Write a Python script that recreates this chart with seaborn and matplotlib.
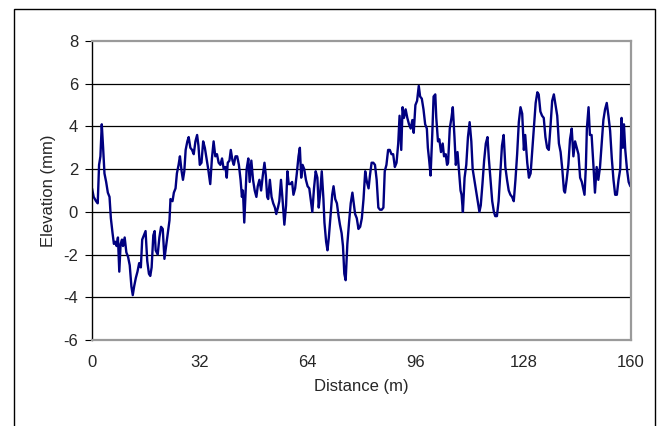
import matplotlib
matplotlib.use("Agg")
import matplotlib.pyplot as plt
import seaborn as sns
import pandas as pd
from matplotlib.patches import Rectangle

# profile: distance (m) and elevation (mm)
distance = [
    0.0, 0.5, 1.2, 1.7, 2.1, 2.5, 2.9, 3.3, 3.7, 4.2, 4.7, 5.2, 5.6, 6.1, 6.5,
    6.9, 7.3, 7.7, 8.1, 8.5, 8.9, 9.2, 9.7, 10.2, 10.7, 11.2, 11.7, 12.1, 12.5,
    13.0, 13.5, 14.0, 14.5, 14.9, 15.4, 15.9, 16.4, 16.9, 17.3, 17.7, 18.2,
    18.6, 18.9, 19.5, 20.0, 20.5, 21.0, 21.5, 22.0, 22.5, 23.0, 23.3, 23.9,
    24.3, 24.8, 25.2, 25.7, 26.1, 26.6, 27.0, 27.4, 27.8, 28.3, 28.7, 29.2,
    29.7, 30.2, 30.7, 31.2, 31.6, 32.0, 32.5, 33.0, 33.5, 34.0, 34.5, 35.1,
    35.6, 36.1, 36.6, 37.1, 37.6, 38.1, 38.6, 39.1, 39.6, 40.0, 40.3, 40.8,
    41.2, 41.7, 42.1, 42.6, 43.1, 43.6, 44.1, 44.5, 44.8, 45.2, 45.6, 45.9,
    46.4, 46.8, 47.3, 47.8, 48.3, 48.8, 49.2, 49.7, 50.2, 50.7, 51.2, 51.6,
    52.0, 52.3, 52.8, 53.3, 53.8, 54.3, 54.7, 55.2, 55.6, 56.1, 56.6, 57.1,
    57.6, 58.0, 58.4, 58.9, 59.4, 59.8, 60.3, 60.8, 61.3, 61.7, 62.1, 62.5,
    63.0, 63.5, 64.0, 64.5, 65.0, 65.4, 65.9, 66.4, 66.9, 67.3, 67.7, 68.2,
    68.7, 69.0, 69.5, 69.9, 70.3, 70.8, 71.3, 71.7, 72.2, 72.7, 73.2, 73.6,
    74.1, 74.5, 74.9, 75.3, 75.8, 76.3, 76.8, 77.3, 77.7, 78.1, 78.6, 79.1,
    79.6, 80.1, 80.6, 81.1, 81.6, 82.1, 82.5, 83.0, 83.5, 84.0, 84.5, 85.0,
    85.5, 86.0, 86.5, 86.9, 87.4, 87.9, 88.4, 88.9, 89.4, 89.9, 90.4, 90.9,
    91.3, 91.8, 92.2, 92.6, 93.1, 93.6, 94.1, 94.6, 95.1, 95.5, 96.0, 96.5,
    97.0, 97.4, 97.9, 98.4, 98.9, 99.4, 99.7, 100.1, 100.5, 101.0, 101.4,
    101.9, 102.2, 102.7, 103.1, 103.6, 104.1, 104.5, 105.0, 105.4, 105.7,
    106.2, 106.7, 107.1, 107.6, 108.0, 108.5, 108.9, 109.4, 109.7, 110.1,
    110.6, 111.1, 111.6, 112.1, 112.6, 113.0, 113.5, 114.0, 114.5, 115.0,
    115.4, 115.9, 116.4, 116.9, 117.4, 117.8, 118.3, 118.8, 119.3, 119.7,
    120.2, 120.7, 121.2, 121.7, 122.2, 122.7, 123.2, 123.7, 124.2, 124.7,
    125.2, 125.7, 126.2, 126.7, 127.2, 127.7, 128.2, 128.6, 129.2, 129.7,
    130.2, 130.7, 131.2, 131.7, 132.2, 132.6, 133.1, 133.6, 134.1, 134.6,
    135.1, 135.6, 136.1, 136.6, 137.1, 137.6, 138.1, 138.6, 139.1, 139.6,
    140.1, 140.4, 140.9, 141.4, 141.9, 142.4, 142.9, 143.4, 143.9, 144.4,
    144.9, 145.4, 145.8, 146.2, 146.6, 146.9, 147.4, 147.8, 148.3, 148.8,
    149.3, 149.8, 150.3, 150.8, 151.3, 151.8, 152.3, 152.8, 153.3, 153.8,
    154.3, 154.8, 155.3, 155.8, 156.3, 156.8, 157.2, 157.6, 157.9, 158.3,
    158.8, 159.3, 159.8, 160.0,
]
elevation = [
    1.1, 0.7, 0.5, 0.4, 2.2, 2.6, 4.1, 3.0, 1.8, 1.4, 0.9, 0.7, -0.3, -1.0, -1.5,
    -1.4, -1.6, -1.2, -2.8, -1.5, -1.3, -1.6, -1.2, -1.9, -2.1, -2.5, -3.5, -3.9,
    -3.5, -3.1, -2.8, -2.4, -2.6, -1.3, -1.1, -0.9, -2.3, -2.9, -3.0, -2.6,
    -1.1, -0.9, -1.8, -2.0, -1.2, -0.7, -0.8, -2.2, -1.6, -1.0, -0.4, 0.6, 0.5,
    0.9, 1.1, 1.8, 2.2, 2.6, 1.9, 1.5, 1.9, 2.9, 3.3, 3.5, 3.0, 2.9, 2.7,
    3.3, 3.6, 3.1, 2.2, 2.3, 3.3, 3.0, 2.5, 2.0, 1.3, 2.5, 3.3, 2.6, 2.7,
    2.3, 2.2, 2.5, 2.0, 2.1, 1.6, 2.3, 2.4, 2.9, 2.4, 2.2, 2.6, 2.6, 2.2,
    1.5, 0.7, 1.0, -0.5, 0.9, 2.0, 2.5, 1.4, 2.4, 1.5, 1.0, 0.7, 1.2, 1.5,
    1.0, 1.7, 2.3, 1.7, 0.7, 0.6, 1.5, 0.7, 0.4, 0.2, -0.1, 0.2, 0.5, 1.5,
    0.5, -0.6, 0.3, 1.9, 1.3, 1.3, 1.4, 0.8, 1.1, 1.8, 2.6, 3.0, 1.6, 2.2,
    2.0, 1.5, 1.2, 1.1, 0.5, 0.0, 1.1, 1.9, 1.6, 0.2, 0.8, 1.9, 0.6, -0.5,
    -1.4, -1.8, -1.2, -0.2, 0.8, 1.2, 0.6, 0.4, -0.2, -0.6, -1.0, -1.6, -2.9,
    -3.2, -1.5, -0.5, 0.4, 0.9, 0.4, -0.1, -0.3, -0.8, -0.7, -0.3, 0.6, 1.9,
    1.4, 1.1, 1.7, 2.3, 2.3, 2.2, 1.5, 0.2, 0.1, 0.1, 0.2, 1.9, 2.2, 2.9,
    2.9, 2.7, 2.7, 2.1, 2.3, 3.2, 4.5, 2.9, 4.9, 4.4, 4.8, 4.4, 4.1, 3.9,
    4.3, 3.7, 5.0, 5.2, 5.9, 5.4, 5.3, 4.8, 4.1, 3.9, 3.0, 2.4, 1.7, 3.6,
    5.4, 5.5, 4.4, 3.3, 3.4, 2.8, 3.2, 2.6, 2.7, 2.2, 2.3, 3.9, 4.4, 4.9,
    3.5, 2.2, 2.8, 2.0, 1.0, 0.8, 0.0, 1.6, 2.2, 3.5, 4.2, 3.3, 2.0, 1.5,
    1.0, 0.5, 0.0, 0.3, 1.3, 2.4, 3.2, 3.5, 2.5, 1.5, 0.5, 0.0, -0.2, -0.2,
    0.5, 1.8, 3.1, 3.6, 2.1, 1.5, 1.0, 0.8, 0.7, 0.5, 1.5, 2.7, 4.2, 4.9,
    4.6, 2.9, 3.6, 2.3, 1.6, 1.8, 2.9, 4.0, 5.1, 5.6, 5.5, 4.7, 4.5, 4.4,
    3.5, 3.0, 2.9, 4.0, 5.2, 5.5, 5.0, 4.5, 3.2, 2.8, 2.0, 1.0, 0.9, 1.5,
    2.2, 3.4, 3.9, 2.6, 3.3, 3.0, 2.7, 1.6, 1.4, 1.1, 0.8, 2.1, 3.9, 4.9,
    3.6, 3.6, 2.3, 0.9, 2.1, 1.5, 2.1, 3.2, 4.3, 4.8, 5.1, 4.5, 3.8, 2.5,
    1.5, 0.8, 0.8, 1.5, 2.0, 4.4, 3.0, 4.1, 2.9, 2.0, 1.4, 1.2, 1.2,
]
x_ticks = [0, 32, 64, 96, 128, 160]
y_ticks = [-6, -4, -2, 0, 2, 4, 6, 8]

df = pd.DataFrame({"Distance": distance, "Elevation": elevation})

sns.set_style("white")
plt.rcParams["font.family"] = ["Liberation Sans", "DejaVu Sans"]
plt.rcParams["axes.unicode_minus"] = False

fig = plt.figure(figsize=(6.59, 4.26), dpi=100)
ax = fig.add_axes([92 / 659, 1 - 340 / 426, 539 / 659, 299 / 426])

sns.lineplot(data=df, x="Distance", y="Elevation", color="#000080",
             linewidth=1.7, ax=ax, sort=False)

ax.set_xlim(0, 160)
ax.set_ylim(-6, 8)
ax.set_xticks(x_ticks)
ax.set_yticks(y_ticks)
for y in y_ticks[1:-1]:
    ax.axhline(y, color="black", linewidth=0.9, zorder=0)

ax.set_xlabel("Distance (m)", fontsize=12, labelpad=6)
ax.set_ylabel("Elevation (mm)", fontsize=12, labelpad=5)
ax.tick_params(axis="x", labelsize=12, length=0, pad=11)
ax.tick_params(axis="y", labelsize=12, length=5, direction="out",
               left=True, color="black", pad=5)

for side in ["top", "right", "bottom"]:
    ax.spines[side].set_color("#9a9a9a")
    ax.spines[side].set_linewidth(1.6)
ax.spines["left"].set_color("black")
ax.spines["left"].set_linewidth(1.0)

fig.patches.append(Rectangle((14 / 659, -0.01), 641 / 659, 1 - 9 / 426 + 0.01,
                             transform=fig.transFigure, fill=False,
                             edgecolor="black", linewidth=1.0))

fig.savefig("out.png", dpi=100)
